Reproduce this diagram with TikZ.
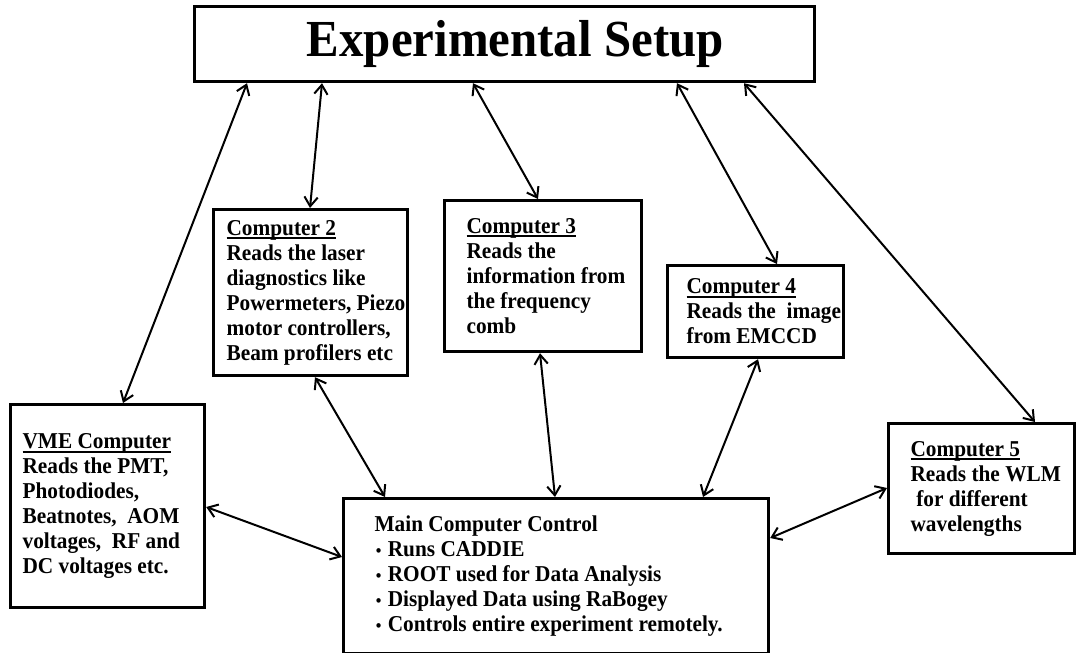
\documentclass[tikz,border=0pt]{standalone}
\usepackage{fontspec}
\setmainfont{Liberation Serif}[FakeStretch=0.94]
\usetikzlibrary{arrows.meta,calc}
\newcommand{\hd}[1]{\setbox0\hbox{#1}\rlap{\rule[-3pt]{\wd0}{1.5pt}}\box0}
\newcommand{\bul}{\makebox[.35em]{\scalebox{.75}{\textbullet}}\ }

\begin{document}
\begin{tikzpicture}[<->,>={Straight Barb[length=7pt,width=10pt]},line width=1.5pt,x=0.75pt,y=-0.75pt,
  pcbox/.style={draw,line width=2.4pt,anchor=north west,align=flush left,inner sep=0pt,
    font=\fontsize{17}{18.75}\selectfont\bfseries}]
  \useasboundingbox (0,0) rectangle (1076,653);
  \node[pcbox,align=center,font=\fontsize{39}{44}\selectfont\bfseries,
    minimum width=465pt,minimum height=56.25pt] (setup) at (193,5) {\hspace*{16pt}Experimental Setup};
  \node[pcbox,minimum width=145.5pt,minimum height=124.5pt,text width=126pt] (c2) at (212,208)
    {\hd{Computer 2}\\Reads the laser\\diagnostics like\\\mbox{Powermeters, Piezo}\\\mbox{motor controllers,}\\\mbox{Beam profilers etc}};
  \node[pcbox,minimum width=147.75pt,minimum height=113.25pt,text width=114.75pt] (c3) at (443,199)
    {\hd{Computer 3}\\Reads the\\\mbox{information from}\\\mbox{the frequency}\\comb};
  \node[pcbox,minimum width=132pt,minimum height=69pt,text width=103.5pt] (c4) at (666,264)
    {\hd{Computer 4}\\\mbox{Reads the \ image}\\\mbox{from EMCCD}};
  \node[pcbox,minimum width=145.5pt,minimum height=152.25pt,text width=127.5pt] (vme) at (9,403)
    {\hd{VME Computer}\\Reads the PMT,\\Photodiodes,\\\mbox{Beatnotes, \ AOM}\\\mbox{voltages, \ RF and}\\DC voltages etc.};
  \node[pcbox,minimum width=318.75pt,minimum height=116.25pt,text width=272.25pt] (main) at (342,497)
    {Main Computer Control\\\bul Runs CADDIE\\\bul ROOT used for Data Analysis\\\bul Displayed Data using RaBogey\\\mbox{\bul Controls entire experiment remotely.}};
  \node[pcbox,minimum width=139.5pt,minimum height=97.5pt,text width=106.5pt] (c5) at (887,422)
    {\hd{Computer 5}\\\mbox{Reads the WLM}\\\mbox{\hspace*{.25em}for different}\\wavelengths};

  \draw ($(setup.south west)+(54,0)$) -- ($(vme.north west)+(114,0)$);
  \draw ($(setup.south west)+(129,0)$) -- ($(c2.north west)+(98,0)$);
  \draw ($(setup.south west)+(280,0)$) -- ($(c3.north west)+(95,0)$);
  \draw ($(setup.south west)+(484,0)$) -- ($(c4.north west)+(111,0)$);
  \draw ($(setup.south west)+(551,0)$) -- ($(c5.north west)+(148,0)$);
  \draw ($(c2.south west)+(103,0)$) -- ($(main.north west)+(43,0)$);
  \draw ($(c3.south west)+(97,0)$) -- ($(main.north west)+(213,0)$);
  \draw ($(c4.south west)+(92,0)$) -- ($(main.north west)+(361,0)$);
  \draw ($(vme.north east)+(0,104)$) -- ($(main.north west)+(0,60)$);
  \draw ($(main.north east)+(0,41)$) -- ($(c5.north west)+(0,66)$);
\end{tikzpicture}
\end{document}
